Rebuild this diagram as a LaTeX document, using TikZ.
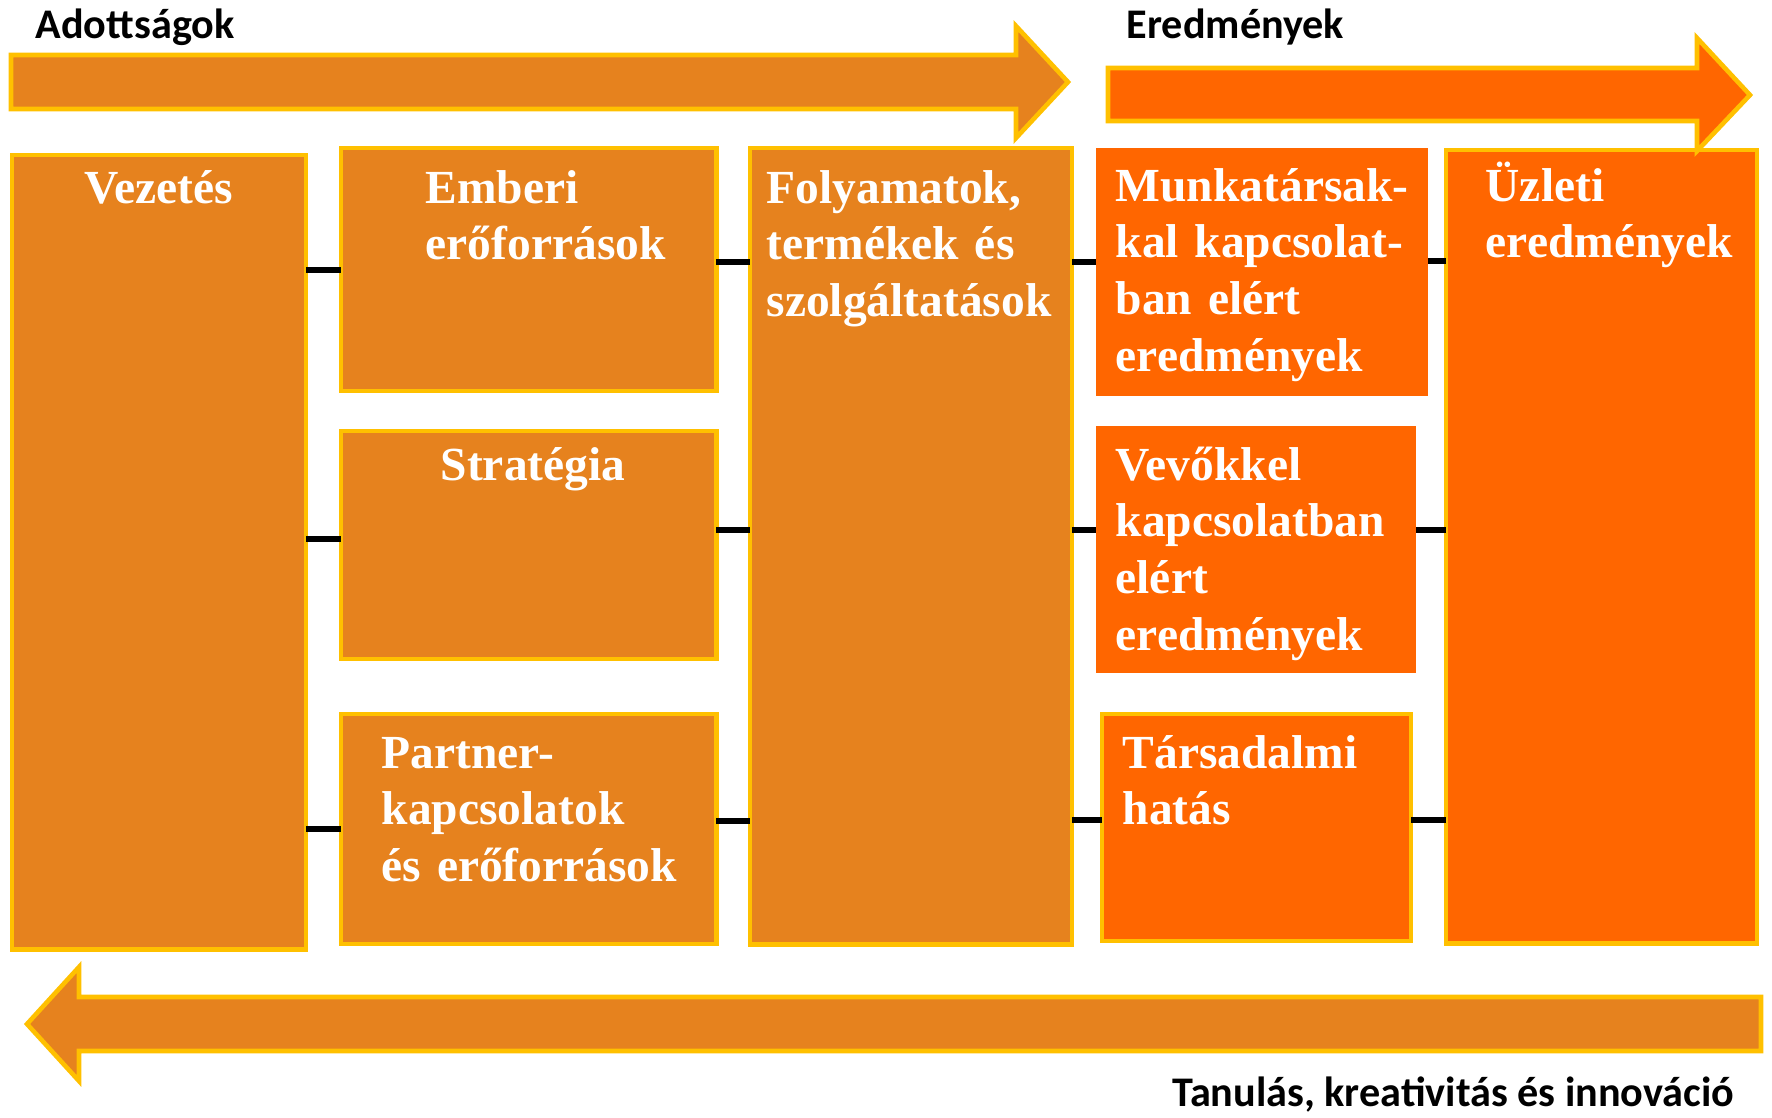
\documentclass[tikz,border=0pt]{standalone}
\usepackage{fontspec}
\setmainfont{Liberation Serif}
\newfontfamily\lblfont{Carlito}
\definecolor{inorange}{HTML}{E6821E}
\definecolor{outorange}{HTML}{FF6600}
\definecolor{rimyellow}{HTML}{FFC000}
\tikzset{
  area/.style={rectangle, fill=inorange, draw=rimyellow, line width=1.3pt,
    anchor=north west, inner sep=0pt, outer sep=0pt},
  result/.style={area, fill=outorange},
  plain/.style={result, draw=none},
  boxfont/.style={text=white, font=\bfseries\fontsize{13.5}{16.2}\selectfont, inner sep=0pt},
  boxtext/.style={boxfont, anchor=base west, text width=5cm, align=left},
  title/.style={font=\lblfont\bfseries\fontsize{12}{14}\selectfont, inner sep=0pt},
  link/.style={line width=1.7pt}
}
\begin{document}
\begin{tikzpicture}[x=0.01cm, y=-0.01cm]
\useasboundingbox (0,0) rectangle (1772,1117);

\def\inarrow{(11,55) -- (1016,55) -- (1016,26) -- (1068,82) -- (1016,138) -- (1016,109) -- (11,109) -- cycle}
\def\outarrow{(1108,68) -- (1697,68) -- (1697,38) -- (1750,95) -- (1697,151) -- (1697,121) -- (1108,121) -- cycle}
\def\backarrow{(1761,997) -- (79,997) -- (79,967) -- (27,1024) -- (79,1081) -- (79,1051) -- (1761,1051) -- cycle}

\filldraw[fill=inorange, draw=rimyellow, line width=1.3pt] \inarrow;
\filldraw[fill=inorange, draw=rimyellow, line width=1.3pt] \backarrow;

% enablers
\node[area, minimum width=2.94cm, minimum height=7.94cm] (vez) at (12,155) {};
\node[area, minimum width=3.75cm, minimum height=2.43cm] (emb) at (341,148) {};
\node[area, minimum width=3.75cm, minimum height=2.28cm] (str) at (341,431) {};
\node[area, minimum width=3.75cm, minimum height=2.30cm] (par) at (341,714) {};
\node[area, minimum width=3.22cm, minimum height=7.96cm] (fol) at (750,148) {};

% results
\node[plain, minimum width=3.32cm, minimum height=2.48cm] (mun) at (1096,148) {};
\node[plain, minimum width=3.20cm, minimum height=2.47cm] (vev) at (1096,426) {};
\node[result, minimum width=3.09cm, minimum height=2.27cm] (tar) at (1102,714) {};
\node[result, minimum width=3.11cm, minimum height=7.93cm] (uzl) at (1446,150) {};

\filldraw[fill=outorange, draw=rimyellow, line width=1.3pt] \outarrow;

% links
\draw[link] (vez.east |- emb.west) -- (emb.west);
\draw[link] ([yshift=0.06cm]vez.east |- str.west) -- ([yshift=0.06cm]str.west);
\draw[link] (vez.east |- par.west) -- (par.west);
\draw[link] ([yshift=0.08cm]emb.east) -- ([yshift=0.08cm]emb.east -| fol.west);
\draw[link] ([yshift=0.15cm]str.east) -- ([yshift=0.15cm]str.east -| fol.west);
\draw[link] ([yshift=0.08cm]par.east) -- ([yshift=0.08cm]par.east -| fol.west);
\draw[link] ([yshift=0.1cm]fol.east |- mun.west) -- ([yshift=0.1cm]mun.west);
\draw[link] ([yshift=0.2cm]fol.east |- vev.west) -- ([yshift=0.2cm]vev.west);
\draw[link] ([yshift=0.08cm]fol.east |- tar.west) -- ([yshift=0.08cm]tar.west);
\draw[link] ([yshift=0.11cm]mun.east) -- ([yshift=0.11cm]mun.east -| uzl.west);
\draw[link] ([yshift=0.2cm]vev.east) -- ([yshift=0.2cm]vev.east -| uzl.west);
\draw[link] ([yshift=0.08cm]tar.east) -- ([yshift=0.08cm]tar.east -| uzl.west);

% texts
\node[boxfont, anchor=base] (vez-t) at (159,203) {Vezetés};
\node[boxtext] (emb-t) at (425,203) {Emberi\\erőforrások};
\node[boxfont, anchor=base] (str-t) at (533,480) {Stratégia};
\node[boxtext] (par-t) at (381,768) {Partner-\\kapcsolatok\\és erőforrások};
\node[boxtext] (fol-t) at (766,203) {Folyamatok,\\termékek és\\szolgáltatások};
\node[boxtext] (mun-t) at (1115,201) {Munkatársak-\\kal kapcsolat-\\ban elért\\eredmények};
\node[boxtext] (vev-t) at (1115,480) {Vevőkkel\\kapcsolatban\\elért\\eredmények};
\node[boxtext] (tar-t) at (1122,768) {Társadalmi\\hatás};
\node[boxtext] (uzl-t) at (1485,201) {Üzleti\\eredmények};

\node[title, anchor=base west] (adott) at (35,38) {Adottságok};
\node[title, anchor=base west] (ered) at (1126,38) {Eredmények};
\node[title, anchor=base east] (tanul) at (1735,1106) {Tanulás, kreativitás és innováció};
\end{tikzpicture}
\end{document}
